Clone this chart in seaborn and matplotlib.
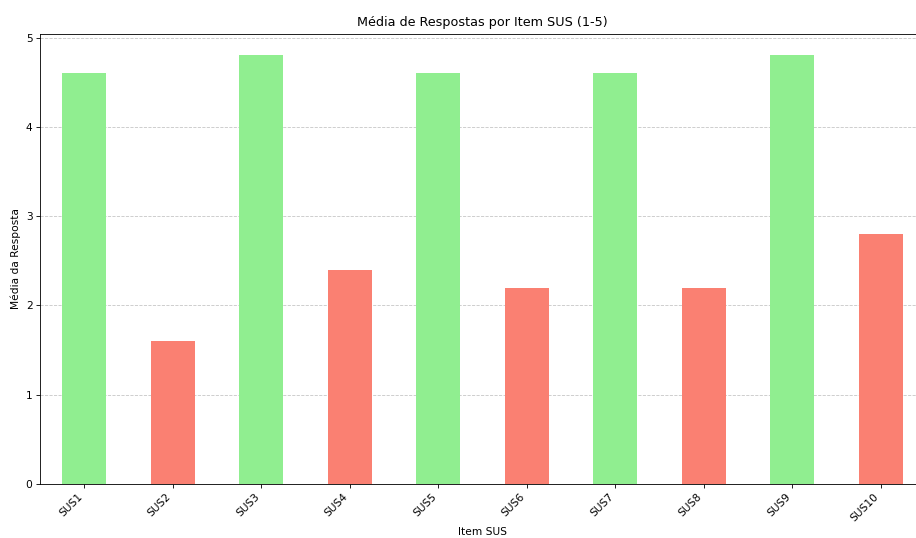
import pandas as pd
import numpy as np
import matplotlib
matplotlib.use("Agg")
import matplotlib.pyplot as plt
import seaborn as sns

# Mean answers per SUS item
itens = ["SUS1", "SUS2", "SUS3", "SUS4", "SUS5", "SUS6", "SUS7", "SUS8", "SUS9", "SUS10"]
medias = [4.6, 1.6, 4.8, 2.4, 4.6, 2.2, 4.6, 2.2, 4.8, 2.8]
tipo = ["positivo" if i % 2 == 0 else "negativo" for i in range(len(itens))]
cores = {"positivo": "lightgreen", "negativo": "salmon"}

df = pd.DataFrame({"Item": itens, "Media": medias, "Tipo": tipo})

# original looks like a 12x7 figure scaled down
dpi = 916 / 12
fig = plt.figure(figsize=(12, 538 / dpi), dpi=dpi)
ax = fig.add_axes([0.0437, 0.1004, 0.966, 0.8364])

sns.barplot(data=df, x="Item", y="Media", hue="Tipo", palette=cores,
            dodge=False, width=0.5, saturation=1, legend=False, ax=ax)

ax.set_xlim(-0.5, 9.5)
ax.set_ylim(0, 5.04)
ax.set_title("Média de Respostas por Item SUS (1-5)", fontsize=12, pad=8)
ax.set_xlabel("Item SUS")
ax.set_ylabel("Média da Resposta")
plt.setp(ax.get_xticklabels(), rotation=45, ha="right")
ax.yaxis.grid(True, linestyle="--", alpha=0.7)
ax.set_axisbelow(True)

fig.savefig("out.png", dpi=dpi)
